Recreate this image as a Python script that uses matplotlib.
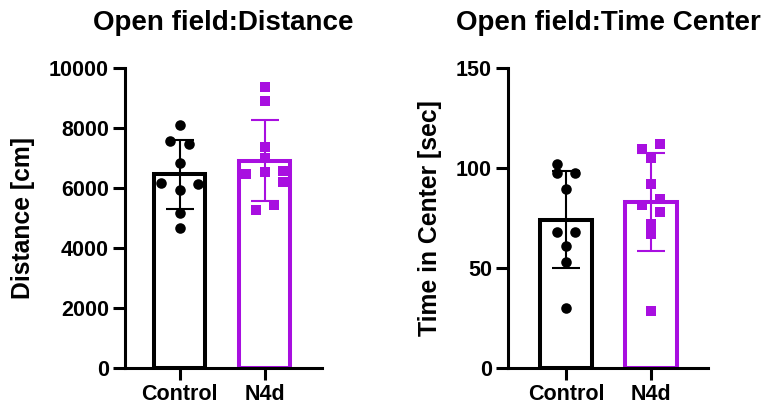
import matplotlib.pyplot as plt
import numpy as np

plt.rcParams['font.family'] = ['Liberation Sans', 'DejaVu Sans']
plt.rcParams['font.weight'] = 'bold'

groups = ['Control', 'N4d']
colors = ['black', '#A80FE0']
markers = ['o', 's']
marker_sizes = [7.6, 7.1]

# open field: distance (cm)
dist_control = [8100, 7570, 7460, 6840, 6180, 6130, 5930, 5180, 4660]
dist_n4d = [9380, 8910, 7380, 6990, 6460, 6540, 6570, 6190, 5270, 5430]

# open field: time in center (sec)
time_control = [101.8, 97.3, 97.7, 89.3, 68.2, 68.2, 61.2, 53.2, 29.8]
time_n4d = [109.3, 111.8, 104.8, 92.0, 81.3, 84.7, 78.2, 72.0, 67.0, 28.7]

# horizontal scatter of the dots (in steps of one dot width)
dist_control_jit = [0, -1, 1, 0, -2, 2, 0, 0, 0]
dist_n4d_jit = [0, 0, 0, 0, -2, 0, 2, 2, -1, 1]
time_control_jit = [-1, -1, 1, 0, -1, 1, 0, 0, 0]
time_n4d_jit = [-1, 1, 0, 0, -1, 1, 1, 0, 0, 0]

panels = [
    ('Open field:Distance', 'Distance [cm]', [dist_control, dist_n4d],
     [dist_control_jit, dist_n4d_jit], [0, 2000, 4000, 6000, 8000, 10000], 10000),
    ('Open field:Time Center', 'Time in Center [sec]', [time_control, time_n4d],
     [time_control_jit, time_n4d_jit], [0, 50, 100, 150], 150),
]

fig = plt.figure(figsize=(7.7, 4.11), dpi=100)
ax1 = fig.add_axes([125 / 770, 43 / 411, 197 / 770, 300 / 411])
ax2 = fig.add_axes([508 / 770, 43 / 411, 200 / 770, 300 / 411])
xlims = [(-0.641, 1.676), (-0.682, 1.67)]

for ax, (title, ylabel, data, jits, yticks, ymax), xl in zip([ax1, ax2], panels, xlims):
    for i, (vals, jit) in enumerate(zip(data, jits)):
        vals = np.asarray(vals, dtype=float)
        m = vals.mean()
        sd = vals.std(ddof=1)
        ax.bar(i, m, width=0.61, facecolor='white', edgecolor=colors[i],
               linewidth=2.9, zorder=1)
        ax.errorbar(i, m, yerr=sd, color=colors[i], elinewidth=1.5,
                    capsize=10, capthick=1.5, zorder=2)
        ax.plot(i + np.asarray(jit) * 0.106, vals, linestyle='none',
                marker=markers[i], markersize=marker_sizes[i], color=colors[i],
                markeredgewidth=0, zorder=3, clip_on=False)
    ax.set_xlim(*xl)
    ax.set_ylim(0, ymax)
    ax.set_yticks(yticks)
    ax.set_xticks(range(len(groups)))
    ax.set_xticklabels(groups)
    ax.spines['top'].set_visible(False)
    ax.spines['right'].set_visible(False)
    for s in ['left', 'bottom']:
        ax.spines[s].set_linewidth(2.2)
    ax.tick_params(direction='out', length=8.5, width=2.2, labelsize=15.5, pad=3)
    ax.set_ylabel(ylabel, fontsize=17.8, fontweight='bold', labelpad=10)
    ax.set_title(title, fontsize=20, fontweight='bold', pad=27)

fig.savefig('out.png', dpi=100)
